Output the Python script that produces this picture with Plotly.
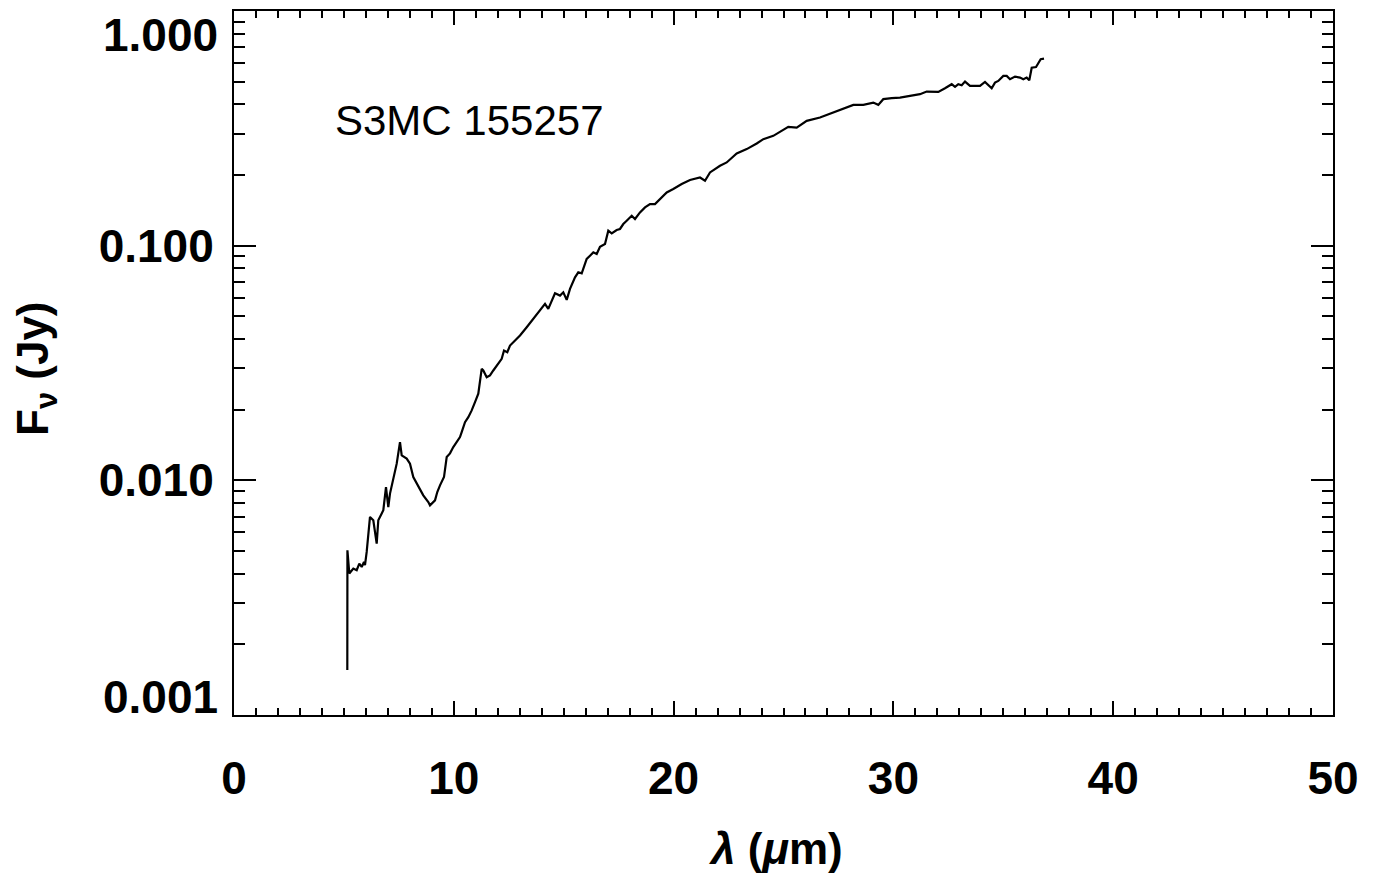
import plotly.graph_objects as go

# Spectrum of S3MC 155257: wavelength (micron) and flux density (Jy)
wavelength = [
    5.155, 5.160, 5.246, 5.428, 5.582, 5.701, 5.810, 5.914, 5.960, 6.037,
    6.187, 6.338, 6.492, 6.565, 6.720, 6.793, 6.915, 7.020, 7.097, 7.247,
    7.402, 7.552, 7.630, 7.857, 8.007, 8.157, 8.385, 8.612, 8.840, 8.917,
    9.145, 9.249, 9.372, 9.554, 9.677, 9.827, 9.977, 10.132, 10.282, 10.359,
    10.510, 10.660, 10.814, 10.965, 11.115, 11.269, 11.342, 11.497, 11.647, 11.797,
    12.025, 12.179, 12.284, 12.434, 12.557, 12.862, 13.012, 13.317, 13.617, 13.922,
    14.149, 14.299, 14.454, 14.604, 14.832, 14.982, 15.137, 15.287, 15.514, 15.664,
    15.819, 16.046, 16.197, 16.347, 16.501, 16.652, 16.879, 17.029, 17.184, 17.411,
    17.561, 17.711, 17.866, 18.094, 18.244, 18.471, 18.699, 18.926, 19.154, 19.459,
    19.686, 19.986, 20.369, 20.746, 21.201, 21.429, 21.656, 22.111, 22.416, 22.871,
    23.326, 23.781, 24.081, 24.536, 24.918, 25.218, 25.601, 26.056, 26.661, 27.266,
    27.721, 28.176, 28.631, 29.085, 29.313, 29.540, 29.923, 30.300, 30.755, 31.210,
    31.515, 32.043, 32.348, 32.652, 32.803, 32.953, 33.107, 33.258, 33.485, 33.940,
    34.167, 34.472, 34.622, 34.772, 35.000, 35.155, 35.305, 35.532, 35.760, 35.910,
    36.064, 36.183, 36.292, 36.488, 36.701, 36.852,
]
flux = [
    0.001554, 0.005035, 0.004009, 0.004209, 0.004140, 0.004420, 0.004276, 0.004491, 0.004349, 0.004954,
    0.006981, 0.006759, 0.005377, 0.006759, 0.007217, 0.007455, 0.009365, 0.007697, 0.008779, 0.010328,
    0.011778, 0.014555, 0.012776, 0.012370, 0.011778, 0.010328, 0.009365, 0.008635, 0.008083, 0.007825,
    0.008218, 0.008917, 0.009521, 0.010328, 0.012566, 0.013028, 0.013855, 0.014555, 0.015288, 0.016054,
    0.017701, 0.018590, 0.019858, 0.021543, 0.023387, 0.029873, 0.029381, 0.027518, 0.027977, 0.029381,
    0.031377, 0.032953, 0.035736, 0.035156, 0.037532, 0.040087, 0.041400, 0.044914, 0.048751, 0.052517,
    0.056468, 0.053771, 0.058345, 0.062663, 0.061268, 0.063286, 0.058736, 0.065420, 0.073303, 0.076989,
    0.076232, 0.087793, 0.090658, 0.093647, 0.092193, 0.099024, 0.10168, 0.11583, 0.11281, 0.11663,
    0.11779, 0.12367, 0.12775, 0.13414, 0.12989, 0.13857, 0.14555, 0.15045, 0.15045, 0.16050,
    0.16859, 0.17431, 0.18306, 0.19040, 0.19528, 0.18909, 0.20512, 0.21904, 0.22627, 0.24709,
    0.25795, 0.27246, 0.28445, 0.29383, 0.30861, 0.32093, 0.31871, 0.34036, 0.35156, 0.36917,
    0.38166, 0.39811, 0.39811, 0.40719, 0.39811, 0.42102, 0.42510, 0.42765, 0.43479, 0.44206,
    0.45349, 0.45213, 0.46890, 0.48760, 0.47486, 0.48760, 0.48280, 0.50013, 0.47958, 0.47958,
    0.49875, 0.46890, 0.49531, 0.50361, 0.52887, 0.52887, 0.51215, 0.52523, 0.52018, 0.51215,
    0.52018, 0.50710, 0.57344, 0.57742, 0.62303, 0.62661,
]

object_name = "S3MC 155257"

x_major = [0, 10, 20, 30, 40, 50]
x_minor = [v for v in range(0, 51) if v % 10 != 0]
# inner decade labels sit on the axis ticks; the end labels are placed inside the frame
y_inner = [0.01, 0.1]
y_inner_text = ["0.010", "0.100"]
y_ends = [(0, "1.000", "top", 4), (-3, "0.001", "bottom", -10)]
y_minor = [m * 10.0 ** e for e in (-3, -2, -1) for m in range(2, 10)]

FONT = "Liberation Sans, Arial, Helvetica, sans-serif"
TICK_SIZE = 46

fig = go.Figure()
fig.add_trace(go.Scatter(
    x=wavelength, y=flux, mode="lines",
    line=dict(color="black", width=2.2),
    showlegend=False, hoverinfo="skip",
))

fig.update_layout(
    width=1377, height=877,
    margin=dict(l=234, r=44, t=11, b=162, autoexpand=False),
    paper_bgcolor="white", plot_bgcolor="white",
    font=dict(family=FONT, color="black"),
)

fig.update_xaxes(
    range=[0, 50], automargin=False,
    showgrid=False, zeroline=False,
    showline=True, linecolor="black", linewidth=2, mirror="ticks",
    ticks="inside", ticklen=14, tickwidth=1.5, tickcolor="black",
    tickmode="array", tickvals=x_major,
    ticktext=[f"<b>{v}</b>" for v in x_major],
    tickfont=dict(size=TICK_SIZE, family=FONT),
    ticklabelstandoff=22,
    minor=dict(ticks="inside", ticklen=7, tickwidth=1.5, tickcolor="black",
               tickmode="array", tickvals=x_minor, showgrid=False),
)

fig.update_yaxes(
    type="log", range=[-3, 0], automargin=False,
    showgrid=False, zeroline=False,
    showline=True, linecolor="black", linewidth=2, mirror="ticks",
    ticks="inside", ticklen=22, tickwidth=1.5, tickcolor="black",
    tickmode="array", tickvals=y_inner,
    ticktext=[f"<b>{t}</b>" for t in y_inner_text],
    tickfont=dict(size=TICK_SIZE, family=FONT),
    ticklabelstandoff=9,
    minor=dict(ticks="inside", ticklen=11, tickwidth=1.5, tickcolor="black",
               tickmode="array", tickvals=y_minor, showgrid=False),
)

for log_val, label, anchor, shift in y_ends:
    fig.add_annotation(x=0, xref="paper", y=log_val, yref="y", text=f"<b>{label}</b>",
                       showarrow=False, xanchor="right", yanchor=anchor,
                       xshift=-14, yshift=shift, font=dict(size=TICK_SIZE, family=FONT))

# Axis titles
fig.add_annotation(x=0.5, xref="paper", y=0, yref="paper", yshift=-133, xshift=-8,
                   text="<b><i>λ</i> (<i>μ</i>m)</b>", showarrow=False,
                   xanchor="center", yanchor="middle", font=dict(size=44, family=FONT))
fig.add_annotation(x=0, xref="paper", y=0.5, yref="paper", xshift=-198, yshift=-6,
                   text="<b>F<sub>ν</sub> (Jy)</b>", showarrow=False, textangle=-90,
                   xanchor="center", yanchor="middle", font=dict(size=44, family=FONT))

fig.add_annotation(x=4.5, y=-0.468, xref="x", yref="y", text=object_name,
                   showarrow=False, xanchor="left", yanchor="middle",
                   font=dict(size=42, family=FONT))

fig.write_html("out.html")
